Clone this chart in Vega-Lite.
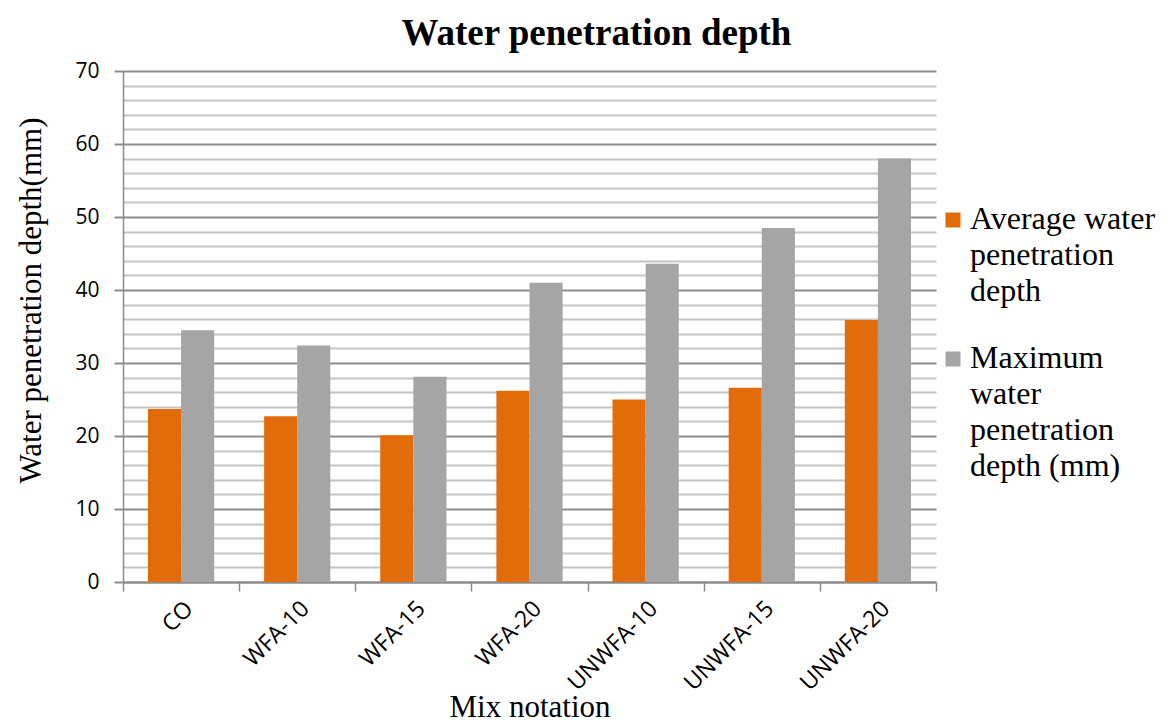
{
  "$schema": "https://vega.github.io/schema/vega-lite/v6.json",
  "width": 813,
  "height": 511,
  "autosize": {"type": "none"},
  "padding": {"left": 123, "top": 71, "right": 238, "bottom": 140},
  "background": "white",
  "title": {
    "text": "Water penetration depth",
    "font": "Liberation Serif",
    "fontSize": 37,
    "fontWeight": "bold",
    "color": "black",
    "anchor": "middle",
    "frame": "group",
    "dx": 67,
    "dy": 45,
    "baseline": "alphabetic",
    "offset": 23
  },
  "config": {"view": {"stroke": null}},
  "data": {
    "values": [
      {"mix": "CO", "series": "Average water penetration depth", "value": 23.7},
      {"mix": "CO", "series": "Maximum water penetration depth (mm)", "value": 34.5},
      {"mix": "WFA-10", "series": "Average water penetration depth", "value": 22.7},
      {"mix": "WFA-10", "series": "Maximum water penetration depth (mm)", "value": 32.4},
      {"mix": "WFA-15", "series": "Average water penetration depth", "value": 20.1},
      {"mix": "WFA-15", "series": "Maximum water penetration depth (mm)", "value": 28.1},
      {"mix": "WFA-20", "series": "Average water penetration depth", "value": 26.2},
      {"mix": "WFA-20", "series": "Maximum water penetration depth (mm)", "value": 41.0},
      {"mix": "UNWFA-10", "series": "Average water penetration depth", "value": 25.0},
      {"mix": "UNWFA-10", "series": "Maximum water penetration depth (mm)", "value": 43.6},
      {"mix": "UNWFA-15", "series": "Average water penetration depth", "value": 26.6},
      {"mix": "UNWFA-15", "series": "Maximum water penetration depth (mm)", "value": 48.5},
      {"mix": "UNWFA-20", "series": "Average water penetration depth", "value": 35.9},
      {"mix": "UNWFA-20", "series": "Maximum water penetration depth (mm)", "value": 58.0}
    ]
  },
  "mark": {"type": "bar", "strokeWidth": 0},
  "encoding": {
    "x": {
      "field": "mix",
      "type": "nominal",
      "sort": ["CO", "WFA-10", "WFA-15", "WFA-20", "UNWFA-10", "UNWFA-15", "UNWFA-20"],
      "scale": {"paddingInner": 0, "paddingOuter": 0},
      "axis": {
        "title": "Mix notation",
        "labelAngle": -45,
        "labelFont": "Open Sans",
        "labelFontSize": 23,
        "labelColor": "black",
        "tickBand": "extent",
        "tickSize": 9,
        "tickColor": "#8c8c8c",
        "tickWidth": 1.5,
        "domainColor": "#8c8c8c",
        "domainWidth": 2,
        "labelPadding": 6,
        "titleFont": "Liberation Serif",
        "titleFontSize": 31,
        "titleFontWeight": "normal",
        "titleColor": "black",
        "titleBaseline": "alphabetic",
        "titleY": 134
      }
    },
    "xOffset": {
      "field": "series",
      "type": "nominal",
      "sort": ["Average water penetration depth", "Maximum water penetration depth (mm)"],
      "scale": {"paddingInner": 0, "paddingOuter": 0.754}
    },
    "y": {
      "field": "value",
      "type": "quantitative",
      "scale": {"domain": [0, 70], "nice": false},
      "axis": {
        "values": [0, 2, 4, 6, 8, 10, 12, 14, 16, 18, 20, 22, 24, 26, 28, 30, 32, 34, 36, 38, 40, 42, 44, 46, 48, 50, 52, 54, 56, 58, 60, 62, 64, 66, 68, 70],
        "labelExpr": "datum.value % 10 === 0 ? datum.label : ''",
        "labelOverlap": false,
        "grid": true,
        "gridColor": {"condition": {"test": "datum.value % 10 === 0", "value": "#8c8c8c"}, "value": "#c4c4c4"},
        "gridWidth": 2,
        "tickColor": "#8c8c8c",
        "tickOpacity": {"condition": {"test": "datum.value % 10 === 0", "value": 1}, "value": 0},
        "tickSize": 9,
        "tickWidth": 2,
        "domainColor": "#8c8c8c",
        "domainWidth": 1.5,
        "labelFont": "Open Sans",
        "labelFontSize": 21,
        "labelColor": "black",
        "labelPadding": 15,
        "title": "Water penetration depth(mm)",
        "titleFont": "Liberation Serif",
        "titleFontSize": 31,
        "titleFontWeight": "normal",
        "titleColor": "black",
        "titleX": -83,
        "titleY": 229,
        "titleBaseline": "alphabetic",
        "titleAngle": 270,
        "titleAlign": "center"
      }
    },
    "color": {
      "field": "series",
      "type": "nominal",
      "scale": {
        "domain": ["Average water penetration depth", "Maximum water penetration depth (mm)"],
        "range": ["#E36C0A", "#A5A5A5"]
      },
      "legend": {
        "title": null,
        "orient": "none",
        "legendX": 814,
        "legendY": 142,
        "direction": "vertical",
        "symbolType": "M-1,-2.2H1V-0.2H-1Z",
        "symbolSize": 225,
        "symbolStrokeWidth": 0,
        "labelFont": "Liberation Serif",
        "labelFontSize": 32,
        "labelColor": "black",
        "labelBaseline": "alphabetic",
        "labelOffset": 1,
        "labelLimit": 400,
        "rowPadding": 35,
        "labelExpr": "datum.label == 'Average water penetration depth' ? ['Average water', 'penetration', 'depth'] : ['Maximum', 'water', 'penetration', 'depth (mm)']",
        "encode": {"labels": {"update": {"lineHeight": {"value": 36}}}}
      }
    }
  }
}
